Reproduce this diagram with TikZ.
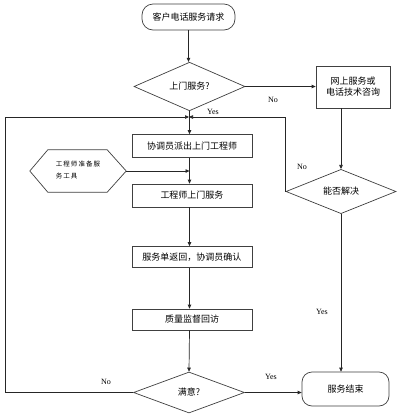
\documentclass[tikz,border=0pt]{standalone}
\usepackage{fontspec}
\setmainfont{Liberation Serif}
\newfontfamily\cjk{Noto Sans CJK SC}
\usetikzlibrary{shapes.geometric,arrows.meta}
\begin{document}
\begin{tikzpicture}[x=1pt,y=-1pt,
  cjkfont/.style={font=\cjk\fontsize{9}{11}\selectfont},
  box/.style={draw=black!75, line width=0.7pt, minimum width=120pt, minimum height=23pt, inner sep=0pt, cjkfont},
  rbox/.style={box, rounded corners=11pt},
  dia/.style={draw=black!75, line width=0.7pt, shape=diamond, inner sep=0pt, minimum width=111pt, minimum height=41pt, cjkfont},
  conn/.style={draw=black!85, line width=0.7pt},
  arr/.style={conn, -{Triangle[length=4pt,width=3.5pt]}},
  lbl/.style={font=\fontsize{8}{9}\selectfont, inner sep=0pt}
]
\useasboundingbox (0,0) rectangle (400,416);
\fill[white] (0,0) rectangle (400,416);

\node[rbox, minimum width=93pt, minimum height=26pt] (start) at (188.5,17) {客户电话服务请求};
\node[dia] (d1) at (189.5,86.5) {上门服务?};
\node[box, minimum width=74pt, minimum height=42pt, align=center] (net) at (353,87) {网上服务或\\电话技术咨询};
\node[box] (b1) at (192,146) {协调员派出上门工程师};
\node[box] (b2) at (192,195.5) {工程师上门服务};
\node[box, minimum height=21pt] (b3) at (192,257) {服务单返回，协调员确认};
\node[box, minimum height=21pt] (b4) at (192,319.5) {质量监督回访};
\node[dia] (d2) at (189,392.5) {满意?};
\node[dia, minimum width=110pt] (d3) at (341,191.5) {能否解决};
\node[rbox, minimum width=87pt, minimum height=34pt, rounded corners=10pt] (end) at (345.5,389) {服务结束};

\node[minimum width=96pt, minimum height=42pt, inner sep=0pt, align=left,
      font=\cjk\fontsize{6.5}{12}\selectfont] (hex) at (78,171)
      {\raisebox{3pt}{工\,程\,师\,准\,备\,服}\\\raisebox{3pt}{务\,工\,具}\hphantom{\,准\,备\,服}};
\draw[draw=black!75, line width=0.7pt] (hex.west) -- ([xshift=18pt]hex.north west) -- ([xshift=-19pt]hex.north east)
  -- (hex.east) -- ([xshift=-19pt]hex.south east) -- ([xshift=18pt]hex.south west) -- cycle;

\coordinate (jn) at (189,117);
\coordinate (lft) at (5,392.5);

\draw[arr] (start) -- (start.south |- d1.north);
\draw[arr] (d1.east) -- (net.west |- d1.east);
\draw[arr] (d1.south) -- (d1.south |- b1.north);
\draw[arr] (b1.south -| d1.south) -- (b2.north -| d1.south);
\draw[arr] (hex.east) -- (hex.east -| d1.south);
\draw[arr] (b2.south -| d1.south) -- (b3.north -| d1.south);
\draw[arr] (b3.south -| d1.south) -- (b4.north -| d1.south);
\draw[arr] (b4.south -| d1.south) -- (d2.north);
\draw[arr] (d2.east) -- (end.west |- d2.east);
\draw[arr] (d3.north |- net.south) -- (d3.north);
\draw[arr] (d3.south) -- (d3.south |- end.north);
\draw[arr] (d2.west) -- (lft) |- (jn);
\draw[arr] (d3.west) |- (jn);

\node[lbl] (no1) at (273,100) {No};
\node[lbl] (yes1) at (213,112) {Yes};
\node[lbl] (no2) at (302,167) {No};
\node[lbl] (yes2) at (322,312) {Yes};
\node[lbl] (no3) at (106,382) {No};
\node[lbl] (yes3) at (271,377) {Yes};
\end{tikzpicture}
\end{document}
